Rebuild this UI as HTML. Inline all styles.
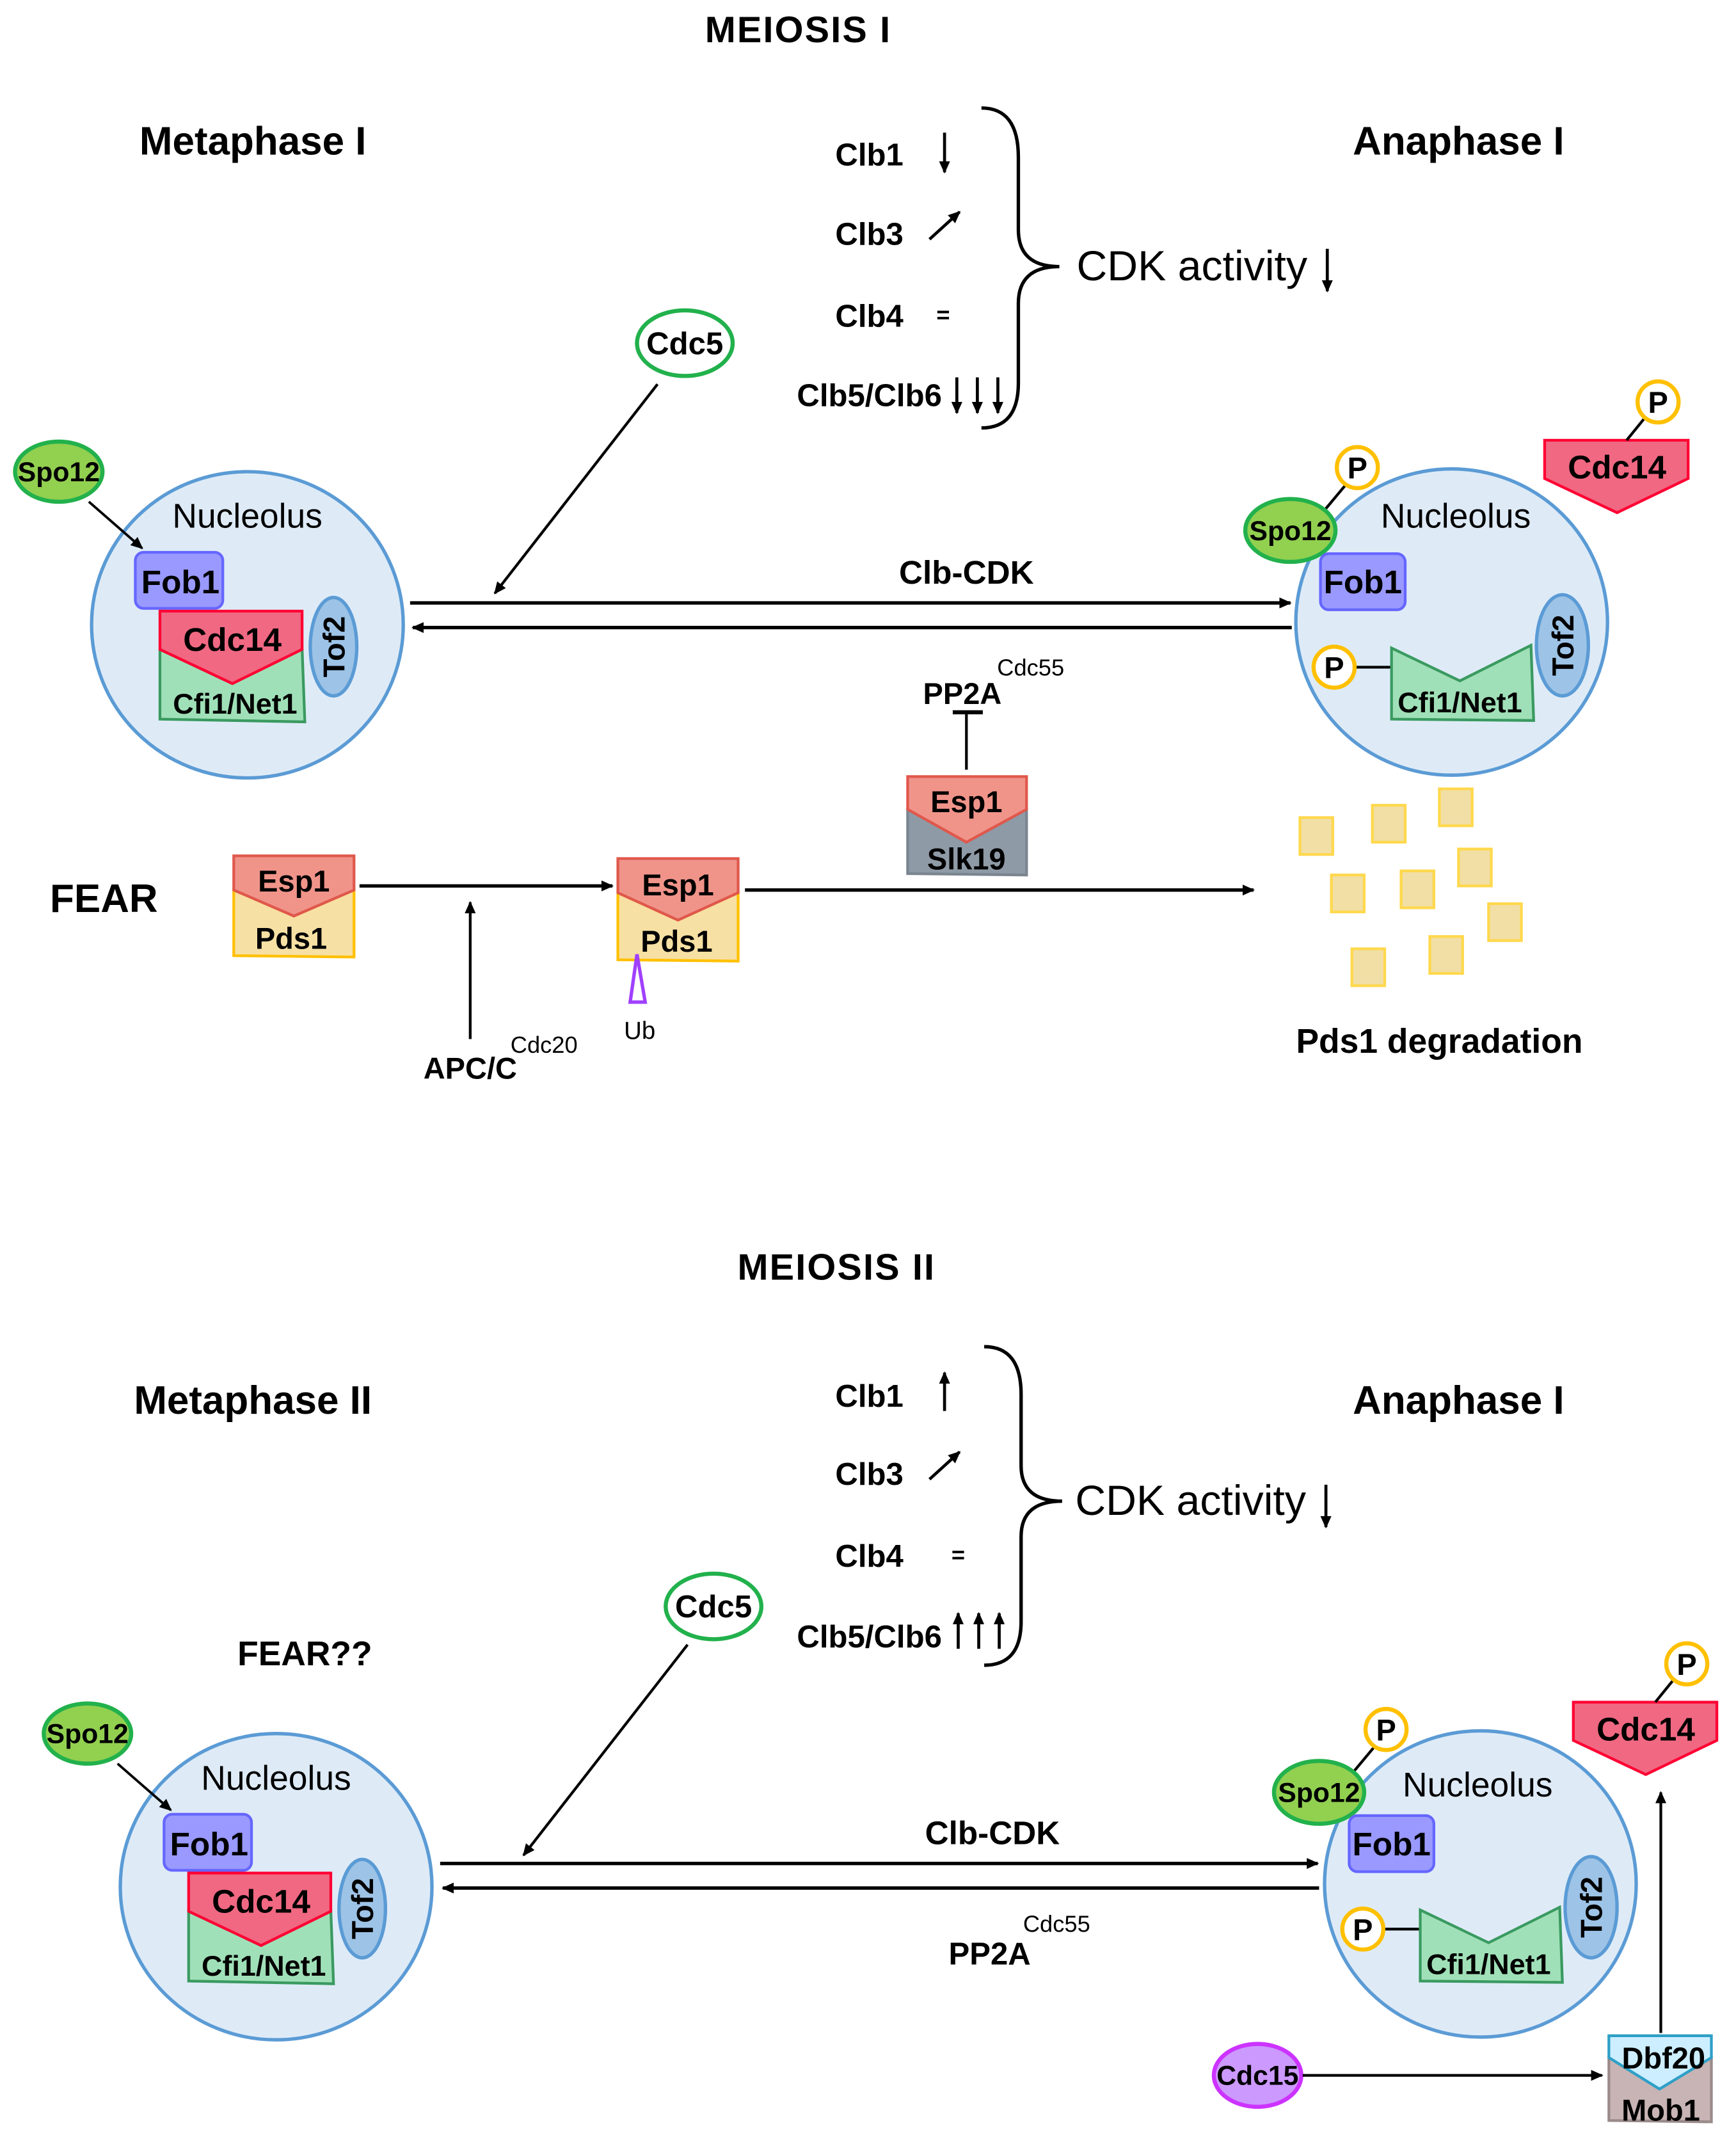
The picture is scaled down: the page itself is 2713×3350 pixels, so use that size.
<!DOCTYPE html>
<html><head><meta charset="utf-8">
<style>
html,body{margin:0;padding:0;background:#fff;}
svg{display:block;}
text{font-family:"Liberation Sans",Arial,sans-serif;fill:#000;}
.b{font-weight:bold;}
</style></head>
<body>
<svg width="2713" height="3350" viewBox="0 0 1270 1568.2" preserveAspectRatio="none" xmlns="http://www.w3.org/2000/svg">
<defs>
<marker id="ah" markerWidth="10" markerHeight="10" refX="8" refY="5" orient="auto" markerUnits="userSpaceOnUse">
<path d="M0,1 L9,5 L0,9 Z" fill="#000"/>
</marker>
</defs>

<!-- Headings -->
<text x="584" y="31" class="b" font-size="27" letter-spacing="1" text-anchor="middle">MEIOSIS I</text>
<text x="185" y="113" class="b" font-size="29" text-anchor="middle">Metaphase I</text>
<text x="1067" y="113" class="b" font-size="29" text-anchor="middle">Anaphase I</text>
<text x="612" y="936" class="b" font-size="27" letter-spacing="1" text-anchor="middle">MEIOSIS II</text>
<text x="185" y="1034" class="b" font-size="29" text-anchor="middle">Metaphase II</text>
<text x="1067" y="1034" class="b" font-size="29" text-anchor="middle">Anaphase I</text>
<text x="76" y="667" class="b" font-size="29" text-anchor="middle">FEAR</text>
<text x="223" y="1218" class="b" font-size="25" text-anchor="middle">FEAR??</text>

<!-- Clb list top -->
<g font-size="23">
<text x="636" y="121" text-anchor="middle" class="b">Clb1</text>
<text x="636" y="179" text-anchor="middle" class="b">Clb3</text>
<text x="636" y="239" text-anchor="middle" class="b">Clb4</text>
<text x="636" y="297" text-anchor="middle" class="b">Clb5/Clb6</text>
<text x="690" y="236" text-anchor="middle" class="b" font-size="17">=</text>
</g>
<g stroke="#000" stroke-width="2.2" fill="none" marker-end="url(#ah)">
<line x1="691" y1="97" x2="691" y2="126"/>
<line x1="680" y1="175" x2="702" y2="155"/>
<line x1="700" y1="276" x2="700" y2="302"/>
<line x1="715" y1="276" x2="715" y2="302"/>
<line x1="730" y1="276" x2="730" y2="302"/>
<line x1="971" y1="182" x2="971" y2="213"/>
</g>
<path d="M718,79 Q745,79 745,115 L745,168 Q745,195 775,195 Q745,195 745,222 L745,280 Q745,313 718,313" stroke="#000" stroke-width="2.5" fill="none"/>
<text x="872" y="205" font-size="31" text-anchor="middle">CDK activity</text>

<!-- Clb list bottom -->
<g font-size="23">
<text x="636" y="1029" text-anchor="middle" class="b">Clb1</text>
<text x="636" y="1086" text-anchor="middle" class="b">Clb3</text>
<text x="636" y="1146" text-anchor="middle" class="b">Clb4</text>
<text x="636" y="1205" text-anchor="middle" class="b">Clb5/Clb6</text>
<text x="701" y="1143" text-anchor="middle" class="b" font-size="17">=</text>
</g>
<g stroke="#000" stroke-width="2.2" fill="none" marker-end="url(#ah)">
<line x1="691" y1="1032" x2="691" y2="1004"/>
<line x1="680" y1="1082" x2="702" y2="1062"/>
<line x1="701" y1="1206" x2="701" y2="1180"/>
<line x1="716" y1="1206" x2="716" y2="1180"/>
<line x1="731" y1="1206" x2="731" y2="1180"/>
<line x1="970" y1="1086" x2="970" y2="1117"/>
</g>
<path d="M720,985 Q747,985 747,1020 L747,1072 Q747,1098 777,1098 Q747,1098 747,1124 L747,1186 Q747,1218 720,1218" stroke="#000" stroke-width="2.5" fill="none"/>
<text x="871" y="1108" font-size="31" text-anchor="middle">CDK activity</text>

<!-- Left nucleolus top -->
<g>
<ellipse cx="181" cy="457" rx="114" ry="112" fill="#deebf7" stroke="#5b9bd5" stroke-width="2.5"/>
<ellipse cx="43" cy="345" rx="32" ry="22" fill="#92d050" stroke="#22b14c" stroke-width="3"/>
<text x="43" y="352" font-size="20" text-anchor="middle" class="b">Spo12</text>
<line x1="65" y1="367" x2="104" y2="401" stroke="#000" stroke-width="1.8" marker-end="url(#ah)"/>
<text x="181" y="386" font-size="25" text-anchor="middle">Nucleolus</text>
<rect x="99" y="404" width="64" height="41" rx="6" fill="#9999ff" stroke="#6666ff" stroke-width="2"/>
<text x="132" y="434" font-size="24" class="b" text-anchor="middle">Fob1</text>
<polygon points="117,475 170,500 221,474 223,528 117,526" fill="#a0e0b8" stroke="#3a9a60" stroke-width="2"/>
<polygon points="117,447 221,447 221,475 170,500 117,475" fill="#f06882" stroke="#ff0033" stroke-width="2"/>
<text x="170" y="476" font-size="24" class="b" text-anchor="middle">Cdc14</text>
<text x="172" y="522" font-size="21" class="b" text-anchor="middle">Cfi1/Net1</text>
<ellipse cx="244" cy="473" rx="17" ry="36" fill="#9dc3e6" stroke="#5b9bd5" stroke-width="2.5"/>
<text x="0" y="0" font-size="22" class="b" text-anchor="middle" transform="translate(252,473) rotate(-90)">Tof2</text>
</g>
<g transform="translate(21,923)">
<ellipse cx="181" cy="457" rx="114" ry="112" fill="#deebf7" stroke="#5b9bd5" stroke-width="2.5"/>
<ellipse cx="43" cy="345" rx="32" ry="22" fill="#92d050" stroke="#22b14c" stroke-width="3"/>
<text x="43" y="352" font-size="20" text-anchor="middle" class="b">Spo12</text>
<line x1="65" y1="367" x2="104" y2="401" stroke="#000" stroke-width="1.8" marker-end="url(#ah)"/>
<text x="181" y="386" font-size="25" text-anchor="middle">Nucleolus</text>
<rect x="99" y="404" width="64" height="41" rx="6" fill="#9999ff" stroke="#6666ff" stroke-width="2"/>
<text x="132" y="434" font-size="24" class="b" text-anchor="middle">Fob1</text>
<polygon points="117,475 170,500 221,474 223,528 117,526" fill="#a0e0b8" stroke="#3a9a60" stroke-width="2"/>
<polygon points="117,447 221,447 221,475 170,500 117,475" fill="#f06882" stroke="#ff0033" stroke-width="2"/>
<text x="170" y="476" font-size="24" class="b" text-anchor="middle">Cdc14</text>
<text x="172" y="522" font-size="21" class="b" text-anchor="middle">Cfi1/Net1</text>
<ellipse cx="244" cy="473" rx="17" ry="36" fill="#9dc3e6" stroke="#5b9bd5" stroke-width="2.5"/>
<text x="0" y="0" font-size="22" class="b" text-anchor="middle" transform="translate(252,473) rotate(-90)">Tof2</text>
</g>

<!-- Right nucleolus top -->
<g>
<ellipse cx="1062" cy="455" rx="114" ry="112" fill="#deebf7" stroke="#5b9bd5" stroke-width="2.5"/>
<line x1="970" y1="372" x2="985" y2="354" stroke="#000" stroke-width="2"/>
<circle cx="993" cy="342" r="15" fill="#fff" stroke="#ffc000" stroke-width="3"/>
<text x="993" y="350" font-size="22" class="b" text-anchor="middle">P</text>
<ellipse cx="944" cy="388" rx="33" ry="23" fill="#92d050" stroke="#22b14c" stroke-width="3"/>
<text x="944" y="395" font-size="20" text-anchor="middle" class="b">Spo12</text>
<text x="1065" y="386" font-size="25" text-anchor="middle">Nucleolus</text>
<rect x="966" y="405" width="62" height="41" rx="6" fill="#9999ff" stroke="#6666ff" stroke-width="2"/>
<text x="997" y="434" font-size="24" class="b" text-anchor="middle">Fob1</text>
<line x1="991" y1="488" x2="1018" y2="488" stroke="#000" stroke-width="2"/>
<circle cx="976" cy="488" r="15" fill="#fff" stroke="#ffc000" stroke-width="3"/>
<text x="976" y="496" font-size="22" class="b" text-anchor="middle">P</text>
<polygon points="1018,474 1068,498 1120,472 1122,527 1018,526" fill="#a0e0b8" stroke="#3a9a60" stroke-width="2"/>
<text x="1068" y="521" font-size="21" class="b" text-anchor="middle">Cfi1/Net1</text>
<ellipse cx="1143" cy="472" rx="19" ry="37" fill="#9dc3e6" stroke="#5b9bd5" stroke-width="2.5"/>
<text x="0" y="0" font-size="22" class="b" text-anchor="middle" transform="translate(1151,472) rotate(-90)">Tof2</text>
<polygon points="1130,322 1235,322 1235,350 1183,375 1130,350" fill="#f06882" stroke="#ff0033" stroke-width="2"/>
<text x="1183" y="350" font-size="24" class="b" text-anchor="middle">Cdc14</text>
<line x1="1190" y1="322" x2="1203" y2="306" stroke="#000" stroke-width="2"/>
<circle cx="1213" cy="294" r="15" fill="#fff" stroke="#ffc000" stroke-width="3"/>
<text x="1213" y="302" font-size="22" class="b" text-anchor="middle">P</text>
</g>
<!-- Right nucleolus bottom -->
<g transform="translate(21,923)">
<ellipse cx="1062" cy="455" rx="114" ry="112" fill="#deebf7" stroke="#5b9bd5" stroke-width="2.5"/>
<line x1="970" y1="372" x2="985" y2="354" stroke="#000" stroke-width="2"/>
<circle cx="993" cy="342" r="15" fill="#fff" stroke="#ffc000" stroke-width="3"/>
<text x="993" y="350" font-size="22" class="b" text-anchor="middle">P</text>
<ellipse cx="944" cy="388" rx="33" ry="23" fill="#92d050" stroke="#22b14c" stroke-width="3"/>
<text x="944" y="395" font-size="20" text-anchor="middle" class="b">Spo12</text>
<text x="1060" y="391" font-size="25" text-anchor="middle">Nucleolus</text>
<rect x="966" y="405" width="62" height="41" rx="6" fill="#9999ff" stroke="#6666ff" stroke-width="2"/>
<text x="997" y="434" font-size="24" class="b" text-anchor="middle">Fob1</text>
<line x1="991" y1="488" x2="1018" y2="488" stroke="#000" stroke-width="2"/>
<circle cx="976" cy="488" r="15" fill="#fff" stroke="#ffc000" stroke-width="3"/>
<text x="976" y="496" font-size="22" class="b" text-anchor="middle">P</text>
<polygon points="1018,474 1068,498 1120,472 1122,527 1018,526" fill="#a0e0b8" stroke="#3a9a60" stroke-width="2"/>
<text x="1068" y="521" font-size="21" class="b" text-anchor="middle">Cfi1/Net1</text>
<ellipse cx="1143" cy="472" rx="19" ry="37" fill="#9dc3e6" stroke="#5b9bd5" stroke-width="2.5"/>
<text x="0" y="0" font-size="22" class="b" text-anchor="middle" transform="translate(1151,472) rotate(-90)">Tof2</text>
<polygon points="1130,322 1235,322 1235,350 1183,375 1130,350" fill="#f06882" stroke="#ff0033" stroke-width="2"/>
<text x="1183" y="350" font-size="24" class="b" text-anchor="middle">Cdc14</text>
<line x1="1190" y1="322" x2="1203" y2="306" stroke="#000" stroke-width="2"/>
<circle cx="1213" cy="294" r="15" fill="#fff" stroke="#ffc000" stroke-width="3"/>
<text x="1213" y="302" font-size="22" class="b" text-anchor="middle">P</text>
</g>

<!-- Clb-CDK arrows top -->
<line x1="300" y1="441" x2="944" y2="441" stroke="#000" stroke-width="2.5" marker-end="url(#ah)"/>
<line x1="945" y1="459" x2="302" y2="459" stroke="#000" stroke-width="2.5" marker-end="url(#ah)"/>
<text x="707" y="427" font-size="24" class="b" text-anchor="middle">Clb-CDK</text>
<ellipse cx="501" cy="251" rx="35" ry="24" fill="#fff" stroke="#22b14c" stroke-width="3"/>
<text x="501" y="259" font-size="23" class="b" text-anchor="middle">Cdc5</text>
<line x1="481" y1="281" x2="362" y2="434" stroke="#000" stroke-width="2" marker-end="url(#ah)"/>

<!-- bottom arrows -->
<line x1="322" y1="1363" x2="964" y2="1363" stroke="#000" stroke-width="2.5" marker-end="url(#ah)"/>
<line x1="965" y1="1381" x2="324" y2="1381" stroke="#000" stroke-width="2.5" marker-end="url(#ah)"/>
<text x="726" y="1349" font-size="24" class="b" text-anchor="middle">Clb-CDK</text>
<text x="724" y="1437" font-size="23" class="b" text-anchor="middle">PP2A</text>
<text x="773" y="1413" font-size="17" text-anchor="middle">Cdc55</text>
<ellipse cx="522" cy="1175" rx="35" ry="24" fill="#fff" stroke="#22b14c" stroke-width="3"/>
<text x="522" y="1183" font-size="23" class="b" text-anchor="middle">Cdc5</text>
<line x1="503" y1="1203" x2="383" y2="1357" stroke="#000" stroke-width="2" marker-end="url(#ah)"/>

<!-- FEAR row -->
<polygon points="171,651 215,670 259,651 259,700 171,699" fill="#f7e0a3" stroke="#ffc000" stroke-width="2"/>
<polygon points="171,626 259,626 259,651 215,670 171,651" fill="#f0948a" stroke="#e0584c" stroke-width="2"/>
<text x="215" y="652" font-size="22" class="b" text-anchor="middle">Esp1</text>
<text x="213" y="694" font-size="22" class="b" text-anchor="middle">Pds1</text>
<line x1="263" y1="648" x2="448" y2="648" stroke="#000" stroke-width="2.5" marker-end="url(#ah)"/>
<line x1="344" y1="760" x2="344" y2="660" stroke="#000" stroke-width="2" marker-end="url(#ah)"/>
<text x="344" y="789" font-size="22" class="b" text-anchor="middle">APC/C</text>
<text x="398" y="770" font-size="17" text-anchor="middle">Cdc20</text>
<polygon points="452,653 496,673 540,653 540,703 452,702" fill="#f7e0a3" stroke="#ffc000" stroke-width="2"/>
<polygon points="452,628 540,628 540,653 496,673 452,653" fill="#f0948a" stroke="#e0584c" stroke-width="2"/>
<text x="496" y="655" font-size="22" class="b" text-anchor="middle">Esp1</text>
<text x="495" y="696" font-size="22" class="b" text-anchor="middle">Pds1</text>
<polygon points="466,698 461,733 472,733" fill="#fff" stroke="#a040ff" stroke-width="2.5"/>
<text x="468" y="760" font-size="18" text-anchor="middle">Ub</text>
<line x1="545" y1="651" x2="917" y2="651" stroke="#000" stroke-width="2.5" marker-end="url(#ah)"/>
<polygon points="664,592 707,616 751,592 751,640 664,639" fill="#8e9aa6" stroke="#7a8590" stroke-width="2"/>
<polygon points="664,568 751,568 751,592 707,616 664,592" fill="#f0948a" stroke="#e0584c" stroke-width="2"/>
<text x="707" y="594" font-size="22" class="b" text-anchor="middle">Esp1</text>
<text x="707" y="636" font-size="22" class="b" text-anchor="middle">Slk19</text>
<line x1="707" y1="563" x2="707" y2="521" stroke="#000" stroke-width="2"/>
<line x1="697" y1="521" x2="719" y2="521" stroke="#000" stroke-width="3"/>
<text x="704" y="515" font-size="22" class="b" text-anchor="middle">PP2A</text>
<text x="754" y="494" font-size="17" text-anchor="middle">Cdc55</text>

<!-- degradation squares -->
<g fill="#f1dfa5" stroke="#ffd84d" stroke-width="2">
<rect x="951" y="598" width="24" height="27"/>
<rect x="1004" y="589" width="24" height="27"/>
<rect x="1053" y="577" width="24" height="27"/>
<rect x="974" y="640" width="24" height="27"/>
<rect x="1025" y="637" width="24" height="27"/>
<rect x="1067" y="621" width="24" height="27"/>
<rect x="1089" y="661" width="24" height="27"/>
<rect x="989" y="694" width="24" height="27"/>
<rect x="1046" y="685" width="24" height="27"/>
</g>
<text x="1053" y="770" font-size="25" class="b" text-anchor="middle">Pds1 degradation</text>

<!-- MEN bottom right -->
<ellipse cx="920" cy="1518" rx="32" ry="23" fill="#cc99ff" stroke="#cc33ff" stroke-width="3"/>
<text x="920" y="1525" font-size="20" class="b" text-anchor="middle">Cdc15</text>
<line x1="953" y1="1518" x2="1172" y2="1518" stroke="#000" stroke-width="2" marker-end="url(#ah)"/>
<polygon points="1177,1505 1214,1528 1252,1505 1252,1552 1177,1551" fill="#c8b4b4" stroke="#9a8a8a" stroke-width="2"/>
<polygon points="1177,1489 1252,1489 1252,1505 1214,1528 1177,1505" fill="#cceeff" stroke="#2ea0c8" stroke-width="2"/>
<text x="1217" y="1513" font-size="22" class="b" text-anchor="middle">Dbf20</text>
<text x="1215" y="1551" font-size="22" class="b" text-anchor="middle">Mob1</text>
<line x1="1215" y1="1487" x2="1215" y2="1311" stroke="#000" stroke-width="2" marker-end="url(#ah)"/>
</svg>
</body></html>
